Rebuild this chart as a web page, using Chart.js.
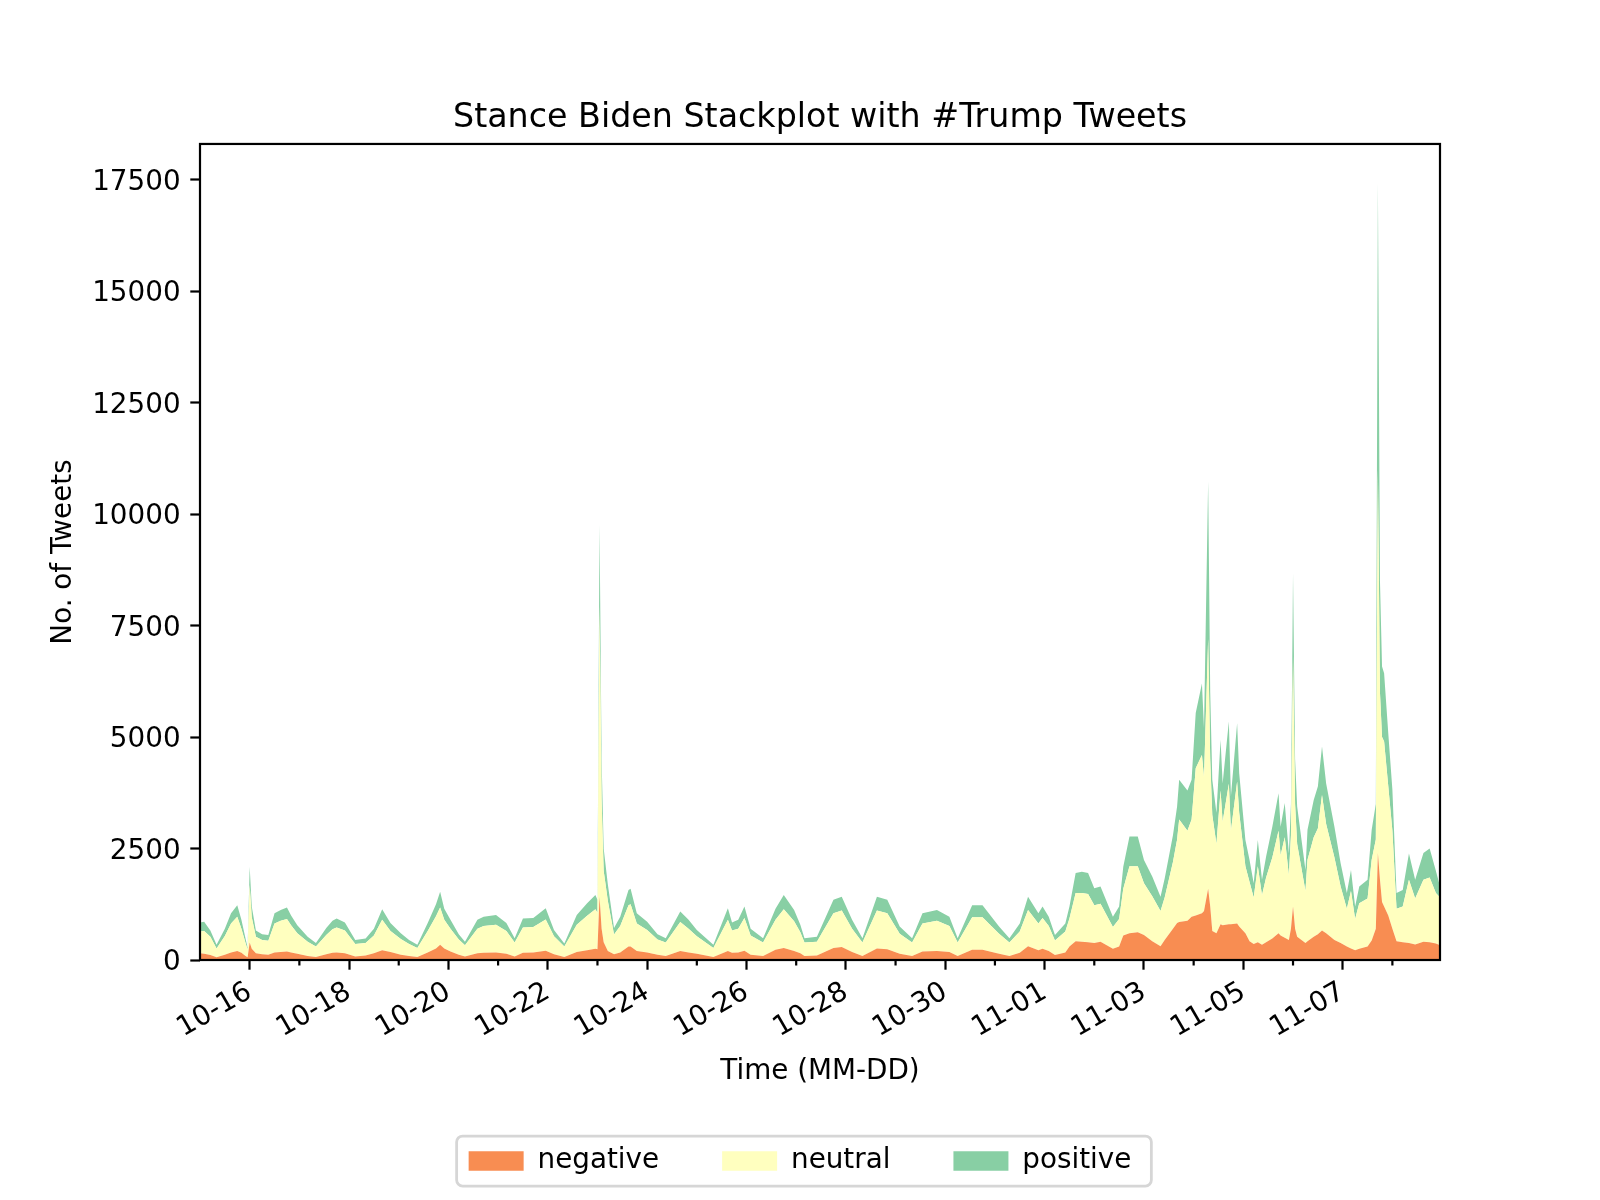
<!DOCTYPE html>
<html><head><meta charset="utf-8">
<script src="https://cdn.jsdelivr.net/npm/chart.js@4.4.1/dist/chart.umd.min.js"></script>
<style>html,body{margin:0;padding:0;background:#fff}#wrap{width:1600px;height:1200px}canvas{display:block}</style>
</head><body><div id="wrap"><canvas id="c" width="1600" height="1200"></canvas></div>
<script>
// hours since 10-15 00:00
const hours = [0,2,5,8,12,15,18,20,22,23,24,25,27,30,33,36,39,42,44,47,52,56,61,64,66,70,75,80,84,88,92,97,101,105,110,114,116,118,121,125,128,134,137,143,148,152,156,161,167,171,176,182,187,191,192,193,194,195,197,200,203,207,208,211,216,221,225,232,236,240,248,255,257,260,263,266,272,278,282,287,290,292,298,306,310,315,320,327,332,338,344,349,356,362,366,373,378,386,391,396,400,405,407,410,413,418,420,423,426,429,432,435,441,444,446,449,453,456,460,464,466,470,472,473,477,479,481,484,485,487,488,489,491,493,494,497,498,501,502,505,507,509,511,513,515,518,521,522,524,526,527,528,529,530,534,535,538,540,542,544,548,551,554,556,558,560,564,566,568,569,570,571,572,574,576,578,581,584,587,591,594,597,599];
const negative = [150,140,110,60,120,170,200,160,90,60,390,250,150,130,120,170,180,190,170,140,90,70,130,160,170,150,80,100,150,220,180,120,90,70,170,260,340,260,190,120,80,150,160,170,140,80,160,170,210,130,70,180,220,250,240,1420,700,400,200,130,170,300,300,200,170,120,90,200,170,140,70,200,160,170,210,120,90,230,270,200,150,90,100,270,290,180,90,260,240,140,90,190,200,180,90,230,230,140,90,160,310,220,250,200,110,170,300,420,410,400,380,410,250,300,550,600,620,560,420,310,450,700,830,850,880,970,1000,1050,1100,1600,1200,650,600,800,780,800,800,820,750,600,420,360,400,340,400,480,600,550,500,450,700,1200,700,520,380,420,520,580,660,600,450,380,300,260,220,250,300,440,700,2400,1800,1300,1200,1000,700,420,400,380,350,410,400,370,330];
const neutral = [490,510,410,200,420,650,770,540,290,170,1290,710,370,320,310,650,700,730,610,460,320,230,430,530,560,510,280,280,400,680,470,350,270,200,480,720,840,640,510,340,250,550,600,620,510,310,570,570,700,400,230,610,770,890,820,6510,2900,1600,1130,440,590,930,950,620,500,340,300,650,530,390,200,700,500,530,730,430,300,670,870,670,470,300,310,780,820,520,300,850,810,450,300,630,680,580,300,730,730,450,300,480,810,600,690,560,330,470,630,1080,1090,1080,850,850,490,620,1050,1500,1480,1160,1010,790,950,1500,1870,2300,2020,2180,3300,3550,3000,5600,3300,2600,2000,3000,2320,3150,2100,3180,2550,1500,1330,1040,1700,1110,1450,1820,2300,1800,2250,1450,2100,5600,2800,2080,1170,1830,2230,2370,3040,2450,1850,1270,850,1290,700,1020,1080,1810,2000,8600,4200,3700,3700,2900,2200,730,800,1420,1030,1390,1450,1130,1070];
const positive = [200,210,140,80,160,230,260,200,100,50,410,240,140,130,130,230,240,260,220,180,110,80,160,190,200,180,90,100,150,240,180,130,90,70,180,270,350,250,200,120,80,200,210,220,180,100,200,200,250,140,70,220,280,320,290,1830,900,500,370,150,210,340,350,230,190,120,100,240,200,140,70,260,180,200,260,150,100,250,320,250,170,100,110,300,310,200,100,310,300,160,100,230,240,210,100,270,270,160,100,180,300,230,260,210,120,180,270,450,480,470,380,390,230,280,490,670,670,520,440,320,430,600,740,890,900,890,1240,1600,1100,3530,1500,790,700,1140,860,1400,770,1310,890,590,490,320,590,350,470,690,840,640,770,490,700,1870,1000,840,470,670,840,940,1090,910,690,520,350,470,280,380,420,670,800,6430,2500,1580,1530,1190,920,350,370,590,420,600,650,500,250];
const seriesNames = ['negative', 'neutral', 'positive'];
const tickLabels = ['10-16','10-18','10-20','10-22','10-24','10-26','10-28','10-30','11-01','11-03','11-05','11-07'];
const yTicks = [0,2500,5000,7500,10000,12500,15000,17500];
const colors = ['#f88d52', '#ffffbf', '#88cfa4'];
const seriesValues = [negative, neutral, positive];

Chart.defaults.font.family = "'DejaVu Sans', sans-serif";
Chart.defaults.color = '#000';
const FS = 27.8;
const AREA_BOTTOM = 960;
const PAD_BOTTOM = 15;

const framePlugin = {
  id: 'frame',
  afterDatasetsDraw(chart) {
    const {ctx, chartArea: a} = chart;
    ctx.save();
    ctx.strokeStyle = '#000';
    ctx.lineWidth = 2.2;
    ctx.strokeRect(a.left, a.top, a.right - a.left, a.bottom - a.top);
    const xs = chart.scales.x;
    ctx.beginPath();
    for (let i = 0; i < tickLabels.length; i++) {
      const v = 48 + 48 * i;
      if (v > xs.max) continue;
      const px = xs.getPixelForValue(v);
      ctx.moveTo(px, a.bottom);
      ctx.lineTo(px, a.bottom + 5.6);
    }
    ctx.stroke();
    ctx.restore();
  },
  afterDraw(chart) {
    const hb = chart.legend && chart.legend.legendHitBoxes;
    if (!hb || !hb.length) return;
    const ctx = chart.ctx;
    const first = hb[0], last = hb[hb.length - 1];
    const cy = first.top + first.height / 2;
    const x0 = first.left - 12, x1 = last.left + last.width + 20;
    const y0 = cy - 25, y1 = cy + 25;
    ctx.save();
    ctx.strokeStyle = '#d6d6d6';
    ctx.lineWidth = 2.8;
    ctx.beginPath();
    ctx.roundRect(x0, y0, x1 - x0, y1 - y0, 6);
    ctx.stroke();
    ctx.restore();
  }
};

const datasets = seriesNames.map((name, k) => ({
  label: name,
  data: hours.map((h, i) => ({x: h, y: seriesValues[k][i]})),
  backgroundColor: colors[k],
  borderColor: colors[k],
  borderWidth: 0,
  pointRadius: 0,
  fill: k === 0 ? 'origin' : '-1',
  tension: 0
}));

new Chart(document.getElementById('c'), {
  type: 'line',
  data: {datasets},
  options: {
    responsive: false,
    animation: false,
    devicePixelRatio: 1,
    layout: {padding: {left: 0, right: 0, top: 0, bottom: PAD_BOTTOM}},
    plugins: {
      title: {display: true, text: 'Stance Biden Stackplot with #Trump Tweets', fullSize: false,
        font: {size: 33.3, weight: 'normal'}, color: '#000', padding: {top: 98, bottom: 6}},
      legend: {position: 'bottom', labels: {boxWidth: 55, boxHeight: 19.5, padding: 63, font: {size: FS}, color: '#000'}},
      tooltip: {enabled: false}
    },
    scales: {
      x: {
        type: 'linear', min: 0, max: 599,
        afterBuildTicks: s => { s.ticks = tickLabels.map((l, i) => ({value: 24 + 48 * i})); },
        afterFit: s => { s.height = 1200 - AREA_BOTTOM - s.chart.legend.height - PAD_BOTTOM; },
        ticks: {autoSkip: false, minRotation: 30, maxRotation: 30, padding: 6, font: {size: FS}, color: '#000',
          callback: v => tickLabels[Math.round((v - 24) / 48)] || ''},
        grid: {drawOnChartArea: false, drawTicks: true, tickLength: 9.7, tickWidth: 2.2, tickColor: '#000'},
        border: {display: false},
        title: {display: true, text: 'Time (MM-DD)', font: {size: FS}, color: '#000', padding: {top: 0, bottom: -4}}
      },
      y: {
        stacked: true, min: 0, max: 18300,
        afterBuildTicks: s => { s.ticks = yTicks.map(v => ({value: v})); },
        afterFit: s => { s.width = 200; },
        ticks: {padding: 9.7, labelOffset: 3, font: {size: FS}, color: '#000', callback: v => String(v)},
        grid: {drawOnChartArea: false, drawTicks: true, tickLength: 9.7, tickWidth: 2.2, tickColor: '#000'},
        border: {display: false},
        title: {display: true, text: 'No. of Tweets', font: {size: FS}, color: '#000', padding: {top: 47, bottom: 0}}
      },
      yRight: {
        type: 'linear', position: 'right', display: true, min: 0, max: 1,
        afterFit: s => { s.width = 160; },
        ticks: {display: false},
        grid: {display: false, drawTicks: false},
        border: {display: false},
        title: {display: false}
      }
    }
  },
  plugins: [framePlugin]
});
</script></body></html>
